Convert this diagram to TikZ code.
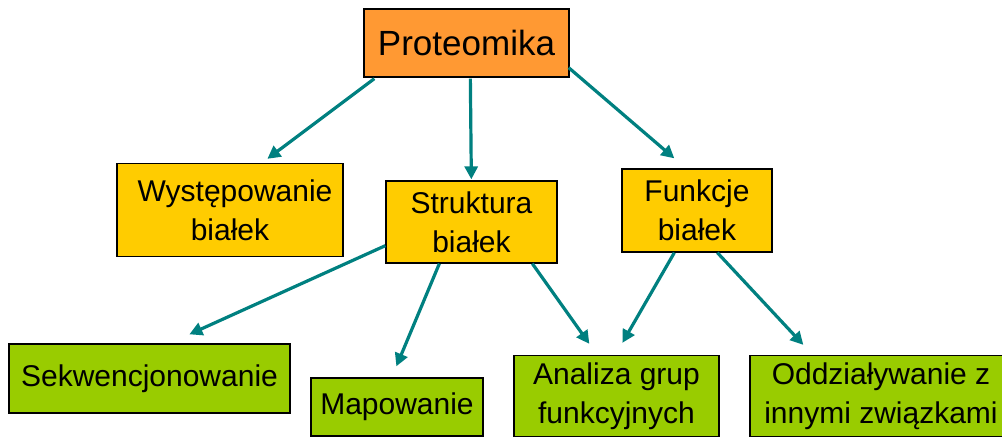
\documentclass[tikz,border=0pt]{standalone}
\usepackage{fontspec}
\setmainfont{Liberation Sans}
\usetikzlibrary{arrows.meta,calc}
\definecolor{orangebox}{RGB}{255,153,51}
\definecolor{yellowbox}{RGB}{255,204,0}
\definecolor{greenbox}{RGB}{153,204,0}
\definecolor{arrowteal}{RGB}{0,128,128}
\begin{document}
\begin{tikzpicture}[x=1pt,y=-1pt,
  box/.style={draw=black, line width=1.3pt, inner sep=0pt, align=center,
    font=\fontsize{30}{39}\selectfont},
  topbox/.style={box, fill=orangebox, font=\fontsize{35}{40}\selectfont},
  midbox/.style={box, fill=yellowbox},
  lowbox/.style={box, fill=greenbox},
  arr/.style={draw=arrowteal, line width=3.2pt,
    -{Triangle[length=13pt,width=13pt]}}]
\useasboundingbox (0,0) rectangle (1002,437);
\clip (0,0) rectangle (1002,437);
% boxes
\node[topbox, minimum width=205pt, minimum height=68pt] (P) at (466.5,43) {Proteomika};
\node[midbox, minimum width=226pt, minimum height=93pt] (W) at (230,210) {\hspace*{10pt}Występowanie\\białek};
\node[midbox, minimum width=171pt, minimum height=82pt] (S) at (471.5,222) {Struktura\\białek};
\node[midbox, minimum width=150pt, minimum height=83pt] (F) at (697,210.5) {Funkcje\\białek};
\node[lowbox, minimum width=281pt, minimum height=69pt] (Q) at (149.5,378.5) {Sekwencjonowanie};
\node[lowbox, minimum width=172pt, minimum height=58pt] (M) at (397,407) {Mapowanie};
\node[lowbox, minimum width=205pt, minimum height=81pt] (A) at (616.5,396) {Analiza grup\\funkcyjnych};
\node[lowbox, minimum width=262pt, minimum height=81pt] (O) at (881,396) {Oddziaływanie z\\innymi związkami};
% connectors
\draw[arr] ($(P.south west)+(11,1)$) -- ($(W.north west)+(151,-4)$);
\draw[arr] ($(P.south west)+(107,1)$) -- ($(S.north west)+(86,-1)$);
\draw[arr] ($(P.south east)+(-1,-10)$) -- ($(F.north west)+(53,-10)$);
\draw[arr] ($(S.south west)+(0,-18)$) -- ($(Q.north west)+(181,-9)$);
\draw[arr] ($(S.south west)+(54,0)$) -- ($(M.north west)+(86,-11)$);
\draw[arr] ($(S.south west)+(147,0)$) -- ($(A.north west)+(76,-11)$);
\draw[arr] ($(F.south west)+(53,0)$) -- ($(A.north west)+(109,-12)$);
\draw[arr] ($(F.south west)+(96,0)$) -- ($(O.north west)+(54,-10)$);
\end{tikzpicture}
\end{document}
